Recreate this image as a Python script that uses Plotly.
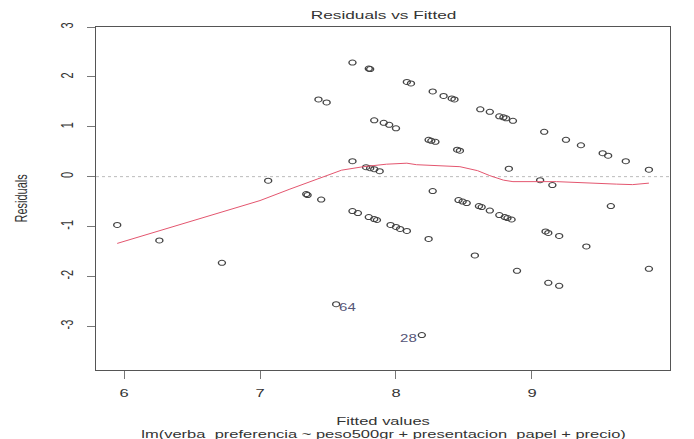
import plotly.graph_objects as go

# Fitted values and residuals of the linear model
fitted = [5.95, 6.26, 6.72, 7.06, 7.34, 7.35, 7.45, 7.43, 7.49, 7.68,
          7.80, 7.81, 8.08, 8.11, 8.27, 8.35, 8.41, 8.43, 8.62, 8.69,
          8.76, 8.79, 8.81, 8.86, 9.09, 9.25, 9.36, 9.52, 9.56, 9.69,
          9.86, 7.84, 7.91, 7.95, 8.00, 8.24, 8.26, 8.29, 8.45, 8.47,
          7.68, 7.78, 7.81, 7.84, 7.88, 8.83, 9.06, 9.15, 8.27, 8.46,
          8.49, 8.52, 8.61, 8.63, 8.69, 8.76, 8.80, 8.82, 8.85, 7.68,
          7.72, 7.80, 7.84, 7.86, 7.96, 8.00, 8.03, 8.08, 8.24, 8.58,
          9.58, 9.10, 9.12, 9.20, 9.40, 8.89, 9.12, 9.20, 9.86, 7.56,
          8.19]
residuals = [-0.97, -1.28, -1.73, -0.08, -0.35, -0.37, -0.46, 1.55, 1.49, 2.29,
             2.17, 2.16, 1.90, 1.87, 1.71, 1.62, 1.57, 1.55, 1.35, 1.30,
             1.21, 1.19, 1.17, 1.12, 0.90, 0.74, 0.63, 0.47, 0.42, 0.31,
             0.14, 1.13, 1.08, 1.04, 0.97, 0.74, 0.72, 0.70, 0.54, 0.52,
             0.31, 0.19, 0.17, 0.15, 0.11, 0.16, -0.07, -0.17, -0.29, -0.47,
             -0.50, -0.53, -0.59, -0.61, -0.68, -0.77, -0.81, -0.83, -0.86, -0.69,
             -0.73, -0.81, -0.85, -0.87, -0.97, -1.01, -1.05, -1.09, -1.25, -1.58,
             -0.59, -1.10, -1.13, -1.19, -1.40, -1.89, -2.13, -2.19, -1.85, -2.56,
             -3.18]

# Observations flagged with their index
flag_fitted = [7.56, 8.19]
flag_resid = [-2.56, -3.18]
flag_labels = ["64", "28"]

# Smoothed trend of residuals
smooth_x = [5.95, 6.46, 7.00, 7.22, 7.47, 7.60, 7.76, 7.93, 8.08, 8.15,
            8.47, 8.60, 8.69, 8.79, 8.86, 9.18, 9.62, 9.74, 9.86]
smooth_y = [-1.34, -0.92, -0.48, -0.25, -0.01, 0.13, 0.20, 0.25, 0.27, 0.24,
            0.20, 0.12, 0.02, -0.07, -0.10, -0.10, -0.15, -0.16, -0.13]

x_ticks = [6, 7, 8, 9]
y_ticks = [-3, -2, -1, 0, 1, 2, 3]

FONT = "Liberation Sans, Arial, sans-serif"
TXT = "#333333"

fig = go.Figure()

fig.add_shape(type="line", xref="paper", x0=0, x1=1, yref="y", y0=0, y1=0,
              line=dict(color="#bbbbbb", width=1, dash="dot"), layer="below")

fig.add_trace(go.Scatter(
    x=fitted, y=residuals, mode="markers",
    marker=dict(symbol="circle-open", size=5, color="#444444",
                line=dict(width=1, color="#444444")),
    hoverinfo="skip", showlegend=False))

fig.add_trace(go.Scatter(
    x=smooth_x, y=smooth_y, mode="lines",
    line=dict(color="#e4566f", width=1),
    hoverinfo="skip", showlegend=False))

# index labels beside the flagged points (right of 64, left of 28)
for fx, fy, lab, dx in zip(flag_fitted, flag_resid, flag_labels, [12, -13]):
    fig.add_annotation(x=fx, y=fy, text=lab, showarrow=False,
                       xshift=dx, yshift=-3,
                       font=dict(family=FONT, size=10, color="#555577"))

axis_common = dict(showline=True, linecolor="#555555", linewidth=1, mirror=True,
                   ticks="outside", ticklen=8, tickcolor="#777777", tickwidth=1,
                   showgrid=False, zeroline=False,
                   tickfont=dict(family=FONT, size=11, color=TXT))

fig.update_xaxes(range=[5.794, 10.015], tickvals=x_ticks,
                 ticktext=[str(v) for v in x_ticks], ticklabelstandoff=5,
                 **axis_common)
fig.update_yaxes(range=[-3.88, 3.003], tickvals=y_ticks,
                 ticktext=[str(v) for v in y_ticks], tickangle=-90,
                 ticklabelstandoff=12, **axis_common)

fig.add_annotation(text="Residuals vs Fitted", xref="paper", yref="paper",
                   x=0.5, y=1, yshift=12, showarrow=False,
                   xanchor="center", yanchor="middle",
                   font=dict(family=FONT, size=11.5, color=TXT))
fig.add_annotation(text="Residuals", xref="paper", yref="paper",
                   x=0, xshift=-75, y=0.5, textangle=-90, showarrow=False,
                   xanchor="center", yanchor="middle",
                   font=dict(family=FONT, size=11, color=TXT))
fig.add_annotation(text="Fitted values", xref="paper", yref="paper",
                   x=0.5, y=0, yshift=-51, showarrow=False,
                   xanchor="center", yanchor="middle",
                   font=dict(family=FONT, size=11, color=TXT))
fig.add_annotation(text="lm(verba_preferencia ~ peso500gr + presentacion_papel + precio)",
                   xref="paper", yref="paper",
                   x=0.5, y=0, yshift=-64, showarrow=False,
                   xanchor="center", yanchor="middle",
                   font=dict(family=FONT, size=11, color=TXT))

fig.update_layout(width=694, height=439,
                  margin=dict(l=96, r=24, t=27, b=69),
                  paper_bgcolor="white", plot_bgcolor="white",
                  showlegend=False)

# Wide type and oval symbols: stretch each text along the screen x direction
# about its own centre, and widen the circle markers.
widen = """
var gd = document.getElementById('{plot_id}');
var S = 1.5;
gd.querySelectorAll('text').forEach(function (t) {
  if (!t.textContent.trim()) return;
  var bb = t.getBBox();
  var cx = bb.x + bb.width / 2, cy = bb.y + bb.height / 2;
  var m = t.getCTM();
  var sx = 1, sy = 1;
  if (Math.abs(m.a) >= Math.abs(m.b)) { sx = S; } else { sy = S; }
  var old = t.getAttribute('transform') || '';
  t.setAttribute('transform', old + ' translate(' + cx + ',' + cy + ') scale(' +
                 sx + ',' + sy + ') translate(' + (-cx) + ',' + (-cy) + ')');
});
gd.querySelectorAll('.scatterlayer path.point').forEach(function (p) {
  var old = p.getAttribute('transform') || '';
  p.setAttribute('transform', old + ' scale(1.4,1)');
});
"""

fig.write_html("out.html", post_script=widen)
